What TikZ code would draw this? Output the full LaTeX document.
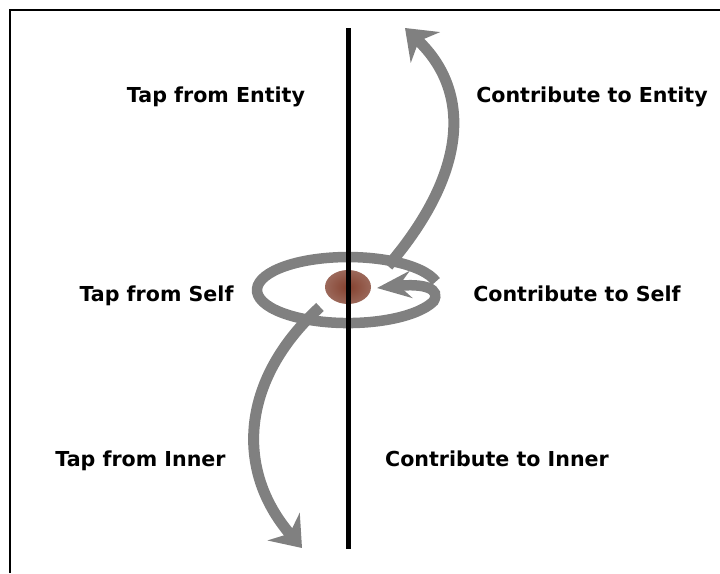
\documentclass[tikz,border=0pt]{standalone}
\usepackage{fontspec}
\setmainfont{DejaVu Sans}
\usetikzlibrary{arrows.meta, positioning, shapes.geometric}
\definecolor{flowgray}{HTML}{808080}
\definecolor{corecolor}{HTML}{84402E}
\definecolor{midcolor}{HTML}{9C6A5C}
\definecolor{rimcolor}{HTML}{B3A29D}
\definecolor{edgecolor}{HTML}{D6CFCD}
\pgfdeclareradialshading{selfball}{\pgfpoint{0bp}{0bp}}{color(0bp)=(corecolor); color(26bp)=(midcolor); color(40bp)=(rimcolor); color(50bp)=(edgecolor)}

\begin{document}
\begin{tikzpicture}[x=1pt, y=-1pt,
    label/.style={font=\fontsize{20.6}{24}\selectfont\bfseries, anchor=base, inner sep=0pt},
    flow/.style={draw=flowgray, line width=11pt, -{Stealth[length=28pt, width=42pt, inset=9pt]}},
    loopflow/.style={draw=flowgray, line width=10.5pt, -{Stealth[length=34pt, width=27pt, inset=12pt]}},
    axis/.style={draw=black, line width=4.5pt},
    frame/.style={draw=black, line width=2.5pt}
]
\useasboundingbox (0,0) rectangle (720,573);
\draw[frame] (10,573) -- (10,10) -- (720,10);

\node[label] (tapentity) at (216,102.5) {Tap from Entity};
\node[label] (contententity) at (592,102.5) {Contribute to Entity};
\node[label] (tapself) at (156.5,301.5) {Tap from Self};
\node[label] (contself) at (577,301.5) {Contribute to Self};
\node[label] (tapinner) at (140.5,466) {Tap from Inner};
\node[label] (continner) at (497,466.5) {Contribute to Inner};

\coordinate (loopstart) at (435.9,281.5);
\coordinate (selfin) at (377,288);
\coordinate (entitystart) at (388,266);
\coordinate (entitytip) at (405,28);
\coordinate (innerstart) at (320,307);
\coordinate (innertip) at (302,548);

\draw[loopflow] (loopstart) arc[start angle=-15, end angle=-340, x radius=91, y radius=33]
    .. controls (441,289) and (425,283) .. (selfin);
\draw[flow] (entitystart) .. controls (470,170) and (470,90) .. (entitytip);
\draw[flow] (innerstart) .. controls (240,380) and (235,470) .. (innertip);

\node[ellipse, minimum width=46pt, minimum height=34pt, inner sep=0pt, shading=selfball] (self) at (348,287) {};

\coordinate (axistop) at (348.5,28);
\coordinate (axisbottom) at (348.5,549);
\draw[axis] (axistop) -- (axisbottom);
\end{tikzpicture}
\end{document}
